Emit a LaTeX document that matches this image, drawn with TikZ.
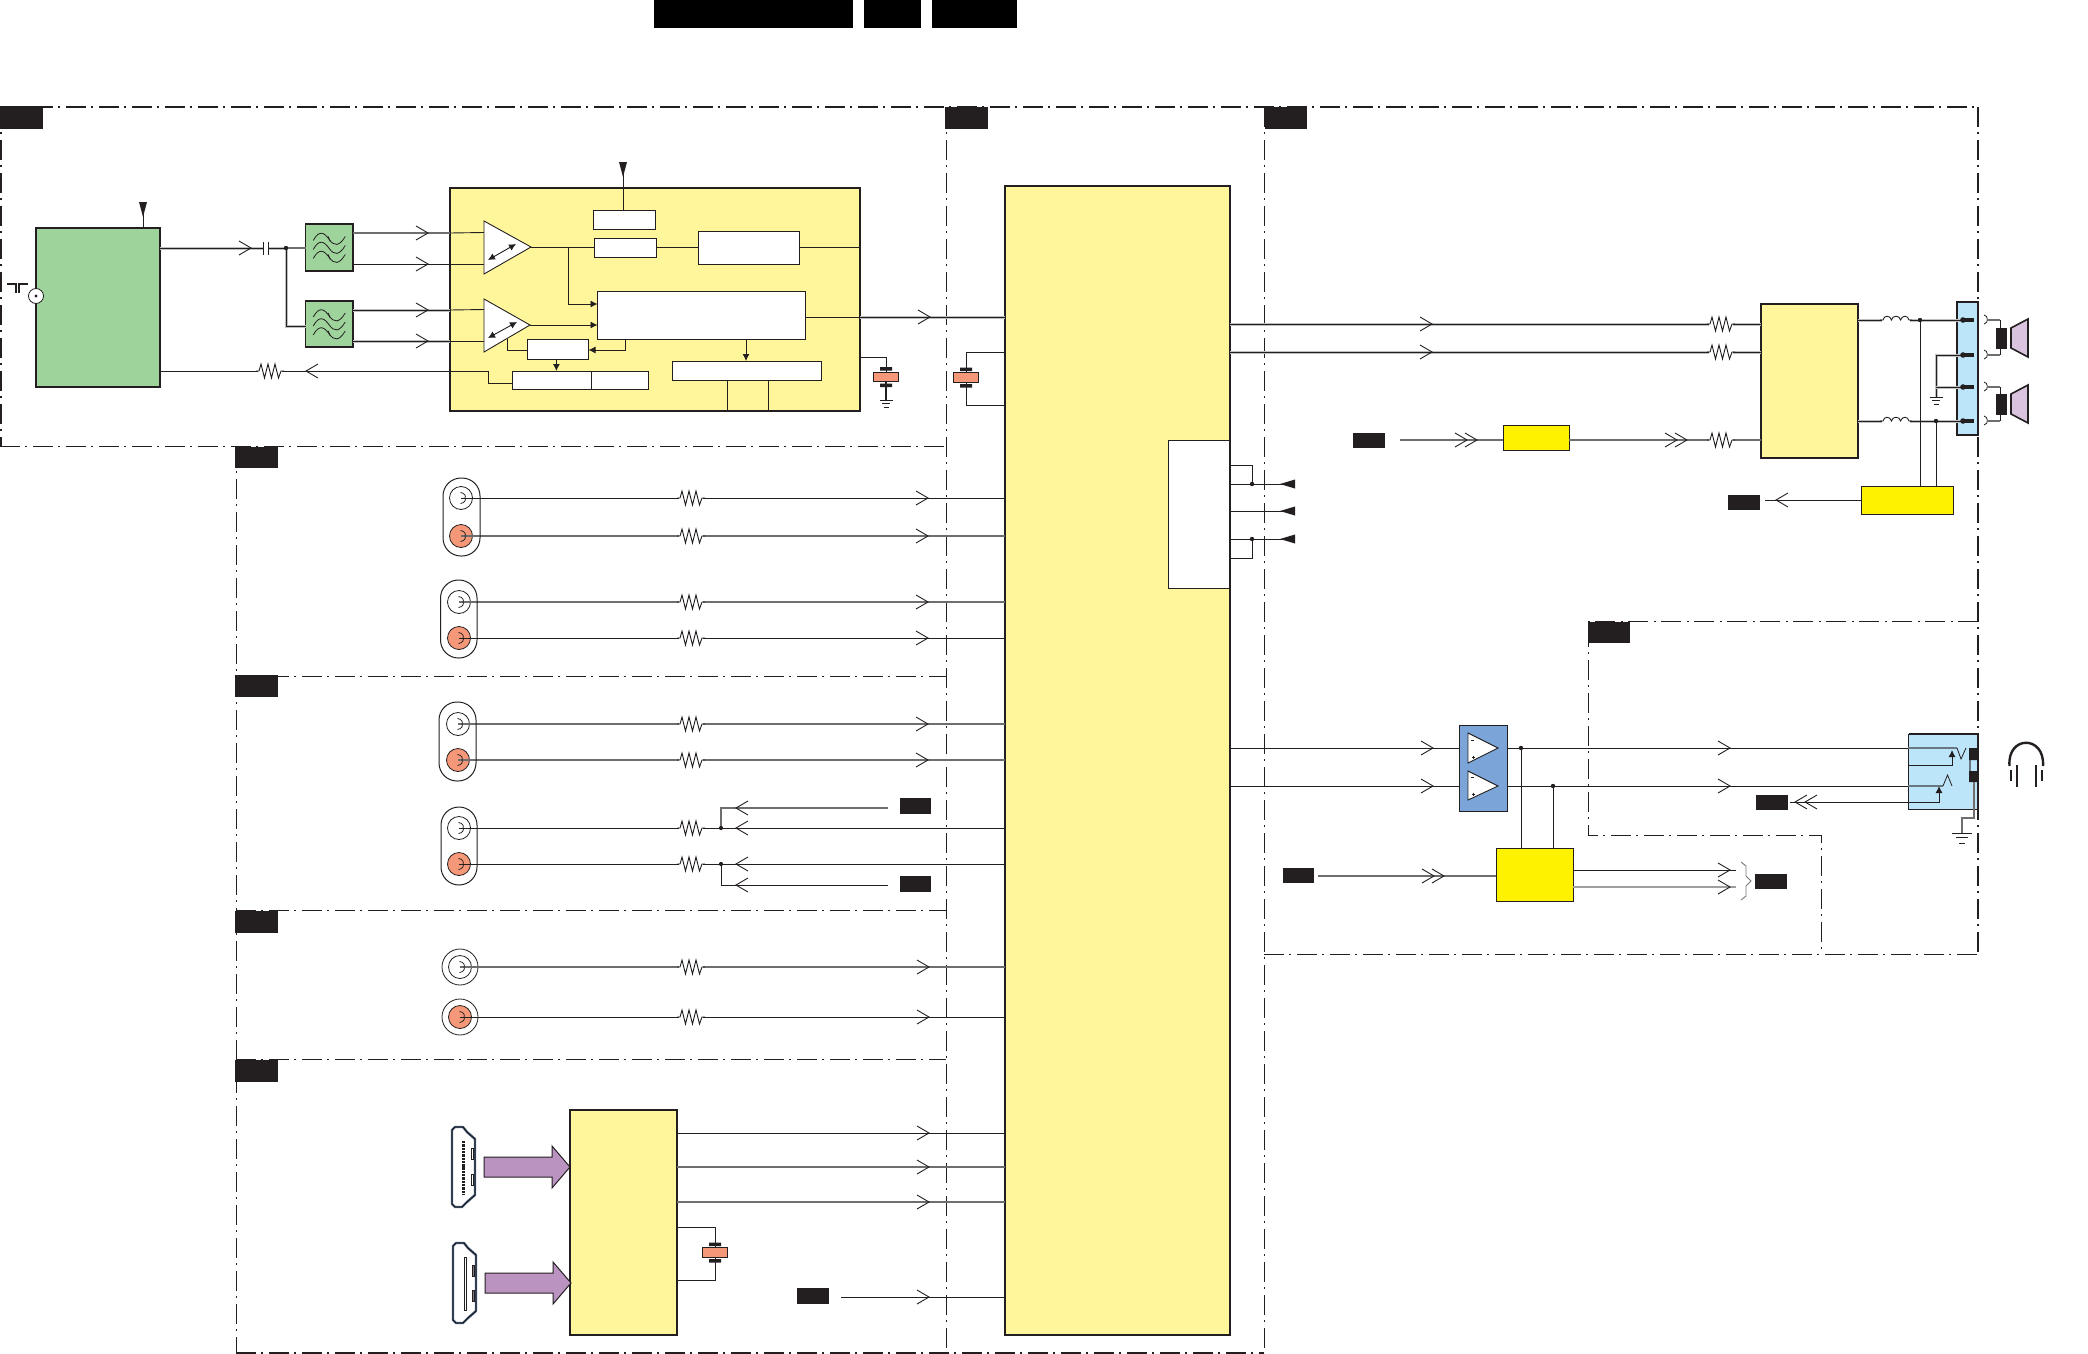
\documentclass[tikz,border=0pt]{standalone}
\usetikzlibrary{arrows.meta,calc}
\definecolor{cyel}{HTML}{FFF69C}
\definecolor{cgrn}{HTML}{9ED39B}
\definecolor{ctag}{HTML}{231F20}
\definecolor{corg}{HTML}{F59879}
\definecolor{clbl}{HTML}{BDE5F9}
\definecolor{cblu}{HTML}{7BA5D8}
\definecolor{cyl2}{HTML}{FFF200}
\definecolor{cpur}{HTML}{BA93C1}
\definecolor{cspk}{HTML}{D9C3DF}
\newcommand\mybox[6]{\pgfmathsetmacro\myw{#4-#2}\pgfmathsetmacro\myh{#5-#3}%
  \node[#6,inner sep=0pt,outer sep=0pt,minimum width=\myw pt,minimum height=\myh pt] (#1) at ({(#2+#4)/2},{(#3+#5)/2}) {};}
\newcommand\hc[4][wire]{\draw[#1] (#2.east |- 0,#4) -- (#3.west |- 0,#4);}
\tikzset{
  ln/.style={draw=ctag,line cap=butt},
  wire/.style={ln,line width=.9pt},
  gw/.style={draw=ctag!65,line width=1.1pt},
  halo/.style={draw=ctag,line width=.9pt,preaction={draw=black!25,line width=3pt}},
  sec/.style={draw=ctag,line width=.9pt,dash pattern=on 20pt off 5pt on 2pt off 6pt},
  secb/.style={sec,line width=1.9pt},
  tag/.style={fill=ctag},
  ybox/.style={draw=ctag,fill=cyel,line width=1.5pt},
  gbox/.style={draw=ctag,fill=cgrn,line width=1.1pt},
  wbox/.style={draw=ctag,fill=white,line width=.9pt},
  tip/.style={-{Latex[length=7pt,width=7pt]}},
  rca/.style={circle,draw=ctag,line width=.8pt,minimum size=23pt,inner sep=0pt,outer sep=0pt},
  pill/.style={draw=ctag,line width=1pt,rounded corners=18pt},
  oa/.pic={\draw[draw=ctag,line width=.9pt] (-12,-7)--(0,0)--(-12,7);},
  da/.pic={\draw[draw=ctag,line width=.9pt] (-12,-7)--(0,0)--(-12,7) (-22,-7)--(-10,0)--(-22,7);},
  res/.pic={\fill[white] (-12,-2.5) rectangle (12,2.5);
    \draw[draw=ctag,line width=.9pt,line join=miter] (-14,0)--(-11,0)--(-9,-7)--(-5.5,7)--(-2,-7)--(1.5,7)--(5,-7)--(8.5,7)--(11,0)--(14,0);},
  ind/.pic={\fill[white] (-14,-2.5) rectangle (14,2.5);
    \draw[draw=ctag,line width=.9pt] (-16,0)--(-13,0) .. controls (-12,-5) and (-6,-5) .. (-4.5,0) .. controls (-4,-5) and (4,-5) .. (4.5,0) .. controls (6,-5) and (12,-5) .. (13,0)--(16,0);},
  ant/.pic={\fill[ctag] (-4,0)--(4,0)--(0,15)--cycle;},
  ftri/.pic={\fill[ctag] (0,0)--(15,-4.5)--(15,4.5)--cycle;},
  gnd/.pic={\draw[draw=ctag,line width=.9pt] (-6.5,0)--(6.5,0) (-4,3.5)--(4,3.5) (-2.5,7)--(2.5,7);},
  capa/.pic={\fill[ctag] (-6,-10)rectangle(6,-6.5) (-6,6.5)rectangle(6,10);
    \draw[draw=ctag,fill=corg,line width=.9pt] (-12.5,-4.7) rectangle (12.5,4.7);},
  jarc/.pic={\draw[draw=ctag,line width=.8pt] (-.5,-5.5) .. controls (4,-5) and (5,-1.5) .. (4,0) .. controls (5,1.5) and (4,5) .. (-.5,5.5);},
  hook/.pic={\draw[draw=ctag,line width=.8pt] (0,-5) .. controls (4,-4.5) and (5,3) .. (0,4);},
  wave/.pic={\draw[draw=ctag,line width=.8pt] (-16,2) .. controls (-10,-9) and (-5,-6) .. (0,1) .. controls (5,8) and (10,8) .. (16,-2);},
  filt/.pic={\path (0,-9) pic {wave} (0,0) pic {wave} (0,9) pic {wave};
    \draw[draw=ctag,line width=.8pt] (-1,-11)--(1,-6) (-1,7)--(1,12);},
  spk/.pic={\fill[ctag] (-15,-10.5) rectangle (-4,10.5);
    \draw[draw=ctag,fill=cspk,line width=1.6pt] (0,-10)--(17,-19)--(17,19)--(0,10)--cycle;},
  hdmi/.pic={\draw[draw=ctag!50!cblu,fill=white,line width=2.4pt,line join=round] (0,3)--(3,0)--(11,0)--(15,5)--(23,12)--(23,68)--(15,75)--(10,80)--(3,80)--(0,77)--cycle;
    \draw[draw=black,line width=.6pt,line join=round] (0,3)--(3,0)--(11,0)--(15,5)--(23,12)--(23,68)--(15,75)--(10,80)--(3,80)--(0,77)--cycle;},
}
\begin{document}
\begin{tikzpicture}[x=1pt,y=-1pt]
\useasboundingbox (0,0) rectangle (2088,1354);
\fill[white] (0,0) rectangle (2088,1354);
% header bars
\mybox{h1}{654}{0}{853}{28}{fill=black}
\mybox{h2}{864}{0}{921}{28}{fill=black}
\mybox{h3}{932}{0}{1017}{28}{fill=black}
% section frames
\draw[secb] (0,107)--(1978,107);
\draw[secb] (1,107)--(1,446);
\draw[sec] (0,446)--(946,446);
\draw[sec] (236,446)--(236,1353);
\draw[sec] (236,676)--(946,676);
\draw[sec] (236,910)--(946,910);
\draw[sec] (236,1059)--(946,1059);
\draw[secb] (236,1353)--(1264,1353);
\draw[sec] (946,107)--(946,1353);
\draw[sec] (1264,107)--(1264,1353);
\draw[sec] (1264,954)--(1978,954);
\draw[secb] (1978,107)--(1978,954);
\draw[sec] (1978,621)--(1588,621)--(1588,835)--(1821,835)--(1821,954);
% section tags
\mybox{ta}{0}{106}{43}{129}{tag}
\mybox{tb}{235}{447}{278}{468}{tag}
\mybox{tc}{235}{675}{278}{697}{tag}
\mybox{td}{235}{911}{278}{933}{tag}
\mybox{te}{235}{1060}{278}{1082}{tag}
\mybox{tf}{945}{107}{988}{129}{tag}
\mybox{tg}{1265}{107}{1307}{129}{tag}
\mybox{th}{1588}{622}{1630}{643}{tag}
% main blocks
\mybox{tuner}{36}{228}{160}{387}{gbox,line width=1.5pt}
\mybox{f1}{305.5}{224}{353}{271}{gbox}
\mybox{f2}{305.5}{301}{353}{347}{gbox}
\mybox{ifc}{450}{188}{860}{411}{ybox}
\mybox{main}{1005}{186}{1230}{1335}{ybox}
\mybox{wmain}{1168}{440}{1230}{588}{wbox}
\draw[ctag,line width=2pt] (main.north east)--(main.south east);
\mybox{ic2}{1761}{304}{1858}{458}{ybox}
\mybox{hdm}{570}{1110}{677}{1335}{ybox}
% tuner left connector
\node[circle,draw=ctag,fill=white,line width=.8pt,minimum size=15pt,inner sep=0pt] (coax) at (36,296) {};
\fill[ctag] (coax) circle (1.6);
\draw[ctag,line width=1.4pt] (7,284)--(16,284)--(16,293) (28,284)--(19,284)--(19,293);
% tuner top pin
\coordinate (p1) at (143,202);
\draw[wire] (p1) -- (tuner.north -| p1);
\path (p1) pic {ant};
% tuner to filters
\coordinate (j1) at (286,248);
\draw[halo] (tuner.east |- j1) -- (j1);
\draw[gw] (j1) -- (f1.west |- j1);
\draw[halo] (j1) |- (f2.west |- 0,326);
\path (251,248) pic {oa};
\fill[white] (263,241.5) rectangle (268,255);
\draw[draw=ctag,line width=.9pt] (263,241.5)--(263,255) (268,241.5)--(268,255);
\fill[ctag] (j1) circle (2.2);
\path (f1.center) pic {filt} (f2.center) pic {filt};
% IF IC
\coordinate (t1a) at (531,247);
\coordinate (t2a) at (530,325);
\draw[gw] (f1.east |- 0,233) -- (ifc.west |- 0,233);
\draw[wire] (ifc.west |- 0,233) -- (484,232.5);
\draw[wire] (f1.east |- 0,264) -- (484,264);
\draw[halo] (f2.east |- 0,310) -- (ifc.west |- 0,310);
\draw[wire] (ifc.west |- 0,310) -- (484,309.5);
\draw[halo] (f2.east |- 0,341) -- (ifc.west |- 0,341);
\draw[wire] (ifc.west |- 0,341) -- (484,341);
\path (428,233) pic {oa} (428,264) pic {oa} (428,310) pic {oa} (428,341) pic {oa};
\draw[wbox] (484,221)--(t1a)--(484,274)--cycle;
\draw[wbox] (484,299)--(t2a)--(484,352)--cycle;
\draw[draw=ctag,line width=.9pt,{Latex[length=7pt,width=7pt]}-{Latex[length=7pt,width=7pt]}] (488,260)--(516,244);
\draw[draw=ctag,line width=.9pt,{Latex[length=7pt,width=7pt]}-{Latex[length=7pt,width=7pt]}] (488,338)--(517,322);
\mybox{ba}{593}{210}{655}{229}{wbox}
\mybox{bb}{594}{238}{656}{257}{wbox}
\mybox{bc}{698}{231}{799.5}{264}{wbox}
\mybox{bd}{597.5}{291}{805.5}{339}{wbox}
\mybox{be}{527.5}{339}{588.5}{359}{wbox}
\mybox{bf}{512.5}{371}{648.5}{389}{wbox}
\mybox{bg}{672.5}{361}{821.5}{380}{wbox}
\draw[wire] (591.4,371)--(591.4,389);
\coordinate (p2) at (623,162);
\draw[wire] (p2) -- (ba.north -| p2);
\path (p2) pic {ant};
\draw[wire] (t1a) -- (bb.west |- t1a);
\draw[wire] (bb.east |- t1a) -- (bc.west |- t1a);
\draw[wire] (bc.east |- t1a) -- (ifc.east |- t1a);
\draw[wire,tip] (568.6,247) |- (bd.west |- 0,304);
\draw[wire,tip] (t2a) -- (bd.west |- t2a);
\draw[wire,tip] (625,339) |- (be.east |- 0,350);
\draw[wire] (507.5,339) |- (be.west |- 0,350);
\draw[wire,tip] (be.south -| 556.4,0) -- (bf.north -| 556.4,0);
\draw[wire,tip] (bd.south -| 746,0) -- (bg.north -| 746,0);
\draw[wire] (bg.south -| 727.5,0) -- (ifc.south -| 727.5,0);
\draw[wire] (bg.south -| 768,0) -- (ifc.south -| 768,0);
\draw[wire] (tuner.east |- 0,371) -- (488,371) -- (488,383) -- (bf.west |- 0,383);
\path (306,371) pic[xscale=-1] {oa} (270,371) pic {res};
\draw[wire] (bd.east |- 0,317) -- (ifc.east |- 0,317);
\draw[halo] (ifc.east |- 0,317) -- (main.west |- 0,317);
\path (930,317) pic {oa};
% IF IC decoupling
\coordinate (c1) at (886,377);
\draw[wire] (ifc.east |- 0,357) -| (c1);
\draw[ctag,line width=2pt] (c1)--(886,400);
\path (c1) pic {capa} (886,400) pic {gnd};
\coordinate (c2) at (966,377.5);
\draw[wire] (main.west |- 0,352) -| (c2);
\draw[wire] (c2) |- (main.west |- 0,405);
\path (c2) pic {capa};
% RCA groups
\foreach \nm/\cx/\cy/\fc/\wst/\tipx in {
 ra/461/498/white/wire/928, rb/461/536/corg/gw/928,
 rc/459/602/white/gw/928, rd/459/638/corg/wire/928,
 re/458/724/white/gw/928, rf/458/760/corg/gw/928}{
  \node[rca,fill=\fc] (\nm) at (\cx,\cy) {};
  \draw[\wst] (\nm.center) -- (main.west |- \nm);
  \path (\nm.center) pic {jarc} (691,\cy) pic {res} (\tipx,\cy) pic {oa};
}
\draw[pill] (443,478) rectangle (480,556);
\draw[pill] (440.5,580) rectangle (477,658);
\draw[pill] (439,702) rectangle (476,781);
% group with tags
\node[rca,fill=white] (rg) at (459,828) {};
\node[rca,fill=corg] (rh) at (459,864) {};
\draw[pill] (441,807) rectangle (477,885);
\draw[wire] (rg.center) -- (main.west |- rg);
\draw[wire] (rh.center) -- (main.west |- rh);
\path (rg.center) pic {jarc} (rh.center) pic {jarc} (691,828) pic {res} (691,864) pic {res};
\coordinate (jg) at (721,828);
\coordinate (jh) at (721,864);
\mybox{tag1}{900}{798}{931}{814}{tag}
\mybox{tag2}{900}{876}{931}{892}{tag}
\coordinate (e1) at (888,808);
\coordinate (e2) at (888,885);
\draw[gw] (jg) |- (e1);
\draw[wire] (jh) |- (e2);
\fill[ctag] (jg) circle (2.1) (jh) circle (2.1);
\path (736,808) pic[xscale=-1] {oa} (736,828) pic[xscale=-1] {oa} (736,864) pic[xscale=-1] {oa} (736,885) pic[xscale=-1] {oa};
% round jacks
\node[rca,minimum size=36pt,fill=white] (ri) at (460,967) {};
\node[rca,fill=white] (ri2) at (460,967) {};
\node[rca,minimum size=36pt,fill=white] (rj) at (460,1017) {};
\node[rca,fill=corg] (rj2) at (460,1017) {};
\draw[gw] (ri.center) -- (main.west |- ri);
\draw[wire] (rj.center) -- (main.west |- rj);
\path (ri.center) pic {jarc} (rj.center) pic {jarc} (691,967) pic {res} (691,1017) pic {res} (929,967) pic {oa} (929,1017) pic {oa};
% HDMI
\path (452,1127) pic {hdmi} (453,1243) pic {hdmi};
\draw[draw=ctag,line width=3pt,dash pattern=on 2.4pt off .9pt] (463.5,1141)--(463.5,1195);
\draw[ctag,line width=.8pt] (471,1148) rectangle (473,1159) (471,1174) rectangle (473,1185);
\draw[ctag,fill=white,line width=.8pt] (464,1257) rectangle (466,1310);
\draw[ctag,fill=ctag!60,line width=.6pt] (472,1265) rectangle (474,1276) (472,1290) rectangle (474,1301);
\draw[draw=ctag,fill=cpur,line width=1pt,line join=miter] (484,1157)--(552,1157)--(552,1146)--(570,1167)--(552,1188)--(552,1177)--(484,1177)--cycle;
\draw[draw=ctag,fill=cpur,line width=1pt,line join=miter] (485,1273)--(553,1273)--(553,1262)--(571,1283)--(553,1304)--(553,1293)--(485,1293)--cycle;
\hc{hdm}{main}{1133}
\hc[gw]{hdm}{main}{1167}
\hc[gw]{hdm}{main}{1202}
\path (929,1133) pic {oa} (929,1167) pic {oa} (929,1202) pic {oa};
\coordinate (c3) at (715,1252.5);
\draw[wire] (hdm.east |- 0,1227) -| (c3);
\draw[wire] (c3) |- (hdm.east |- 0,1280);
\path (c3) pic {capa};
\mybox{tag3}{797}{1288}{829}{1304}{tag}
\coordinate (e3) at (841,1297);
\draw[wire] (e3) -- (main.west |- e3);
\path (929,1297) pic {oa};
% main IC right pins
\coordinate (m1) at (1252,484);
\coordinate (m3) at (1252,539);
\draw[wire] (main.east |- m1) -- (1285,484);
\draw[wire] (main.east |- 0,465) -| (m1);
\draw[wire] (main.east |- 0,511) -- (1285,511);
\draw[wire] (main.east |- m3) -- (1285,539);
\draw[wire] (main.east |- 0,558) -| (m3);
\fill[ctag] (m1) circle (2.2) (m3) circle (2.2);
\path (1280,484) pic {ftri} (1280,511) pic {ftri} (1280,539) pic {ftri};
% audio outputs
\draw[halo] (main.east |- 0,324) -- (ic2.west |- 0,324);
\draw[halo] (main.east |- 0,352) -- (ic2.west |- 0,352);
\path (1432,324) pic {oa} (1432,352) pic {oa} (1721,324) pic {res} (1721,352) pic {res};
\mybox{tag4}{1353}{433}{1385}{448}{tag}
\mybox{yb1}{1503}{425}{1569}{450.5}{draw=ctag,fill=cyl2,line width=.9pt}
\coordinate (e4) at (1400,440);
\draw[gw] (e4) -- (yb1.west |- e4);
\draw[gw] (yb1.east |- e4) -- (ic2.west |- e4);
\path (1477,440) pic {da} (1687,440) pic {da} (1721,440) pic {res};
% speaker connector
\mybox{sc}{1957}{302}{1978}{435}{draw=ctag,fill=clbl,line width=1.1pt}
\draw[ctag,line width=2pt] (sc.north east)--(sc.south east);
\coordinate (j3) at (1920,320);
\coordinate (j4) at (1936,421);
\draw[halo] (ic2.east |- j3) -- (1963,320);
\draw[halo] (ic2.east |- j4) -- (1963,421);
\path (1896,320) pic {ind} (1896,421) pic {ind};
\mybox{yb2}{1861}{486}{1953}{514}{draw=ctag,fill=cyl2,line width=.9pt}
\draw[wire] (j3) -- (yb2.north -| j3);
\draw[wire] (j4) -- (yb2.north -| j4);
\fill[ctag] (j3) circle (2.2) (j4) circle (2.2);
\mybox{tag5}{1728}{495}{1760}{510}{tag}
\draw[wire] (yb2.west) -- (1765,500);
\path (1776,500) pic[xscale=-1] {oa};
\coordinate (g1) at (1936,397);
\draw[halo] (1963,355) -- (1936,355) -- (g1);
\draw[halo] (1936,387) -- (1963,387);
\path (g1) pic {gnd};
\foreach \yy in {320,355,387,421}{
  \fill[ctag] (1963,\yy) circle (2.8);
  \draw[ctag,line width=3.2pt] (1963,\yy)--(1974,\yy);
  \path (1984,\yy) pic {hook};
  \draw[gw] (1987,\yy)--(2000,\yy);
}
\draw[wire] (2000,320)--(2000,355) (2000,387)--(2000,421);
\path (2011,338) pic {spk} (2011,404) pic {spk};
% headphone amplifier
\mybox{amp}{1459.5}{725.5}{1507}{811}{draw=ctag,fill=cblu,line width=1pt}
\draw[wire] (main.east |- 0,748) -- (amp.west |- 0,748);
\draw[wire] (main.east |- 0,786) -- (amp.west |- 0,786);
\path (1433,748) pic {oa} (1433,786) pic {oa};
\draw[wbox] (1468,733)--(1498,748)--(1468,763)--cycle;
\draw[wbox] (1468,771)--(1498,786)--(1468,800)--cycle;
\draw[ctag,line width=.7pt] (1471,740)--(1473.5,740) (1471.5,757)--(1475,757) (1471,777)--(1473.5,777) (1471.5,794)--(1475,794) (1473,792.5)--(1473,795.5) (1473,755.5)--(1473,758.5);
% jack
\mybox{jack}{1908.5}{734}{1978}{809}{draw=ctag,fill=clbl,line width=1pt}
\draw[ctag,line width=2pt] (jack.north west)--(jack.north east)--(jack.south east);
\coordinate (j5) at (1521,748);
\coordinate (j6) at (1553,786);
\draw[wire] (amp.east |- j5) -- (jack.west |- j5);
\draw[wire] (amp.east |- j6) -- (jack.west |- j6);
\path (1730,748) pic {oa} (1730,786) pic {oa};
\mybox{yb3}{1496}{848}{1573}{901}{draw=ctag,fill=cyl2,line width=.9pt}
\draw[wire] (j5) -- (yb3.north -| j5);
\draw[wire] (j6) -- (yb3.north -| j6);
\fill[ctag] (j5) circle (2.2) (j6) circle (2.2);
\mybox{tag6}{1283}{868}{1314}{883}{tag}
\coordinate (e6) at (1318,876);
\draw[gw] (e6) -- (yb3.west |- e6);
\path (1444,876) pic {da};
\coordinate (e7) at (1736,870);
\coordinate (e8) at (1736,887);
\draw[wire] (yb3.east |- e7) -- (e7);
\draw[draw=black!38,line width=1.6pt] (yb3.east |- e8) -- (e8);
\path (1730,870) pic {oa} (1730,887) pic {oa};
\draw[draw=ctag!60,line width=.9pt] (1741,862)--(1746,866)--(1746,876)--(1751,881)--(1746,886)--(1746,896)--(1741,900);
\mybox{tag7}{1755}{874}{1787}{889}{tag}
% jack inside
\draw[draw=ctag!55!clbl,line width=1.2pt] (1908,748)--(1957,748);
\draw[draw=ctag!55!clbl,line width=1.2pt] (1908,786)--(1943,786);
\draw[draw=ctag,line width=.8pt] (1957,748)--(1961,759)--(1966,748);
\draw[draw=ctag,line width=.8pt] (1943,786)--(1947.5,775)--(1952,786);
\draw[wire,tip] (1908,765) -| (1952,750);
\mybox{tag8}{1756}{795}{1788}{810}{tag}
\draw[wire,tip] (1790,802) -| (1939,786);
\path (1795,802) pic[xscale=-1] {da};
\draw[draw=ctag!55!clbl,line width=1.2pt] (1970,760)--(1970,771);
\fill[ctag] (1969,748) rectangle (1978,760) (1969,771) rectangle (1978,782);
\coordinate (g2) at (1962,833);
\draw[gw] (1974,782)--(1974,818)--(1962,818)--(g2);
\draw[draw=ctag,line width=.9pt] (1952,833)--(1972,833) (1956,837)--(1968,837) (1959,843)--(1965,843);
% headphones
\draw[ctag,line width=2.4pt] (2009.5,766) .. controls (2007,735) and (2045,735) .. (2043,766);
\draw[ctag,line width=2.8pt] (2011,770)--(2011,781) (2017,765)--(2017,787) (2036,765)--(2036,787) (2042,770)--(2042,781);
\end{tikzpicture}
\end{document}
